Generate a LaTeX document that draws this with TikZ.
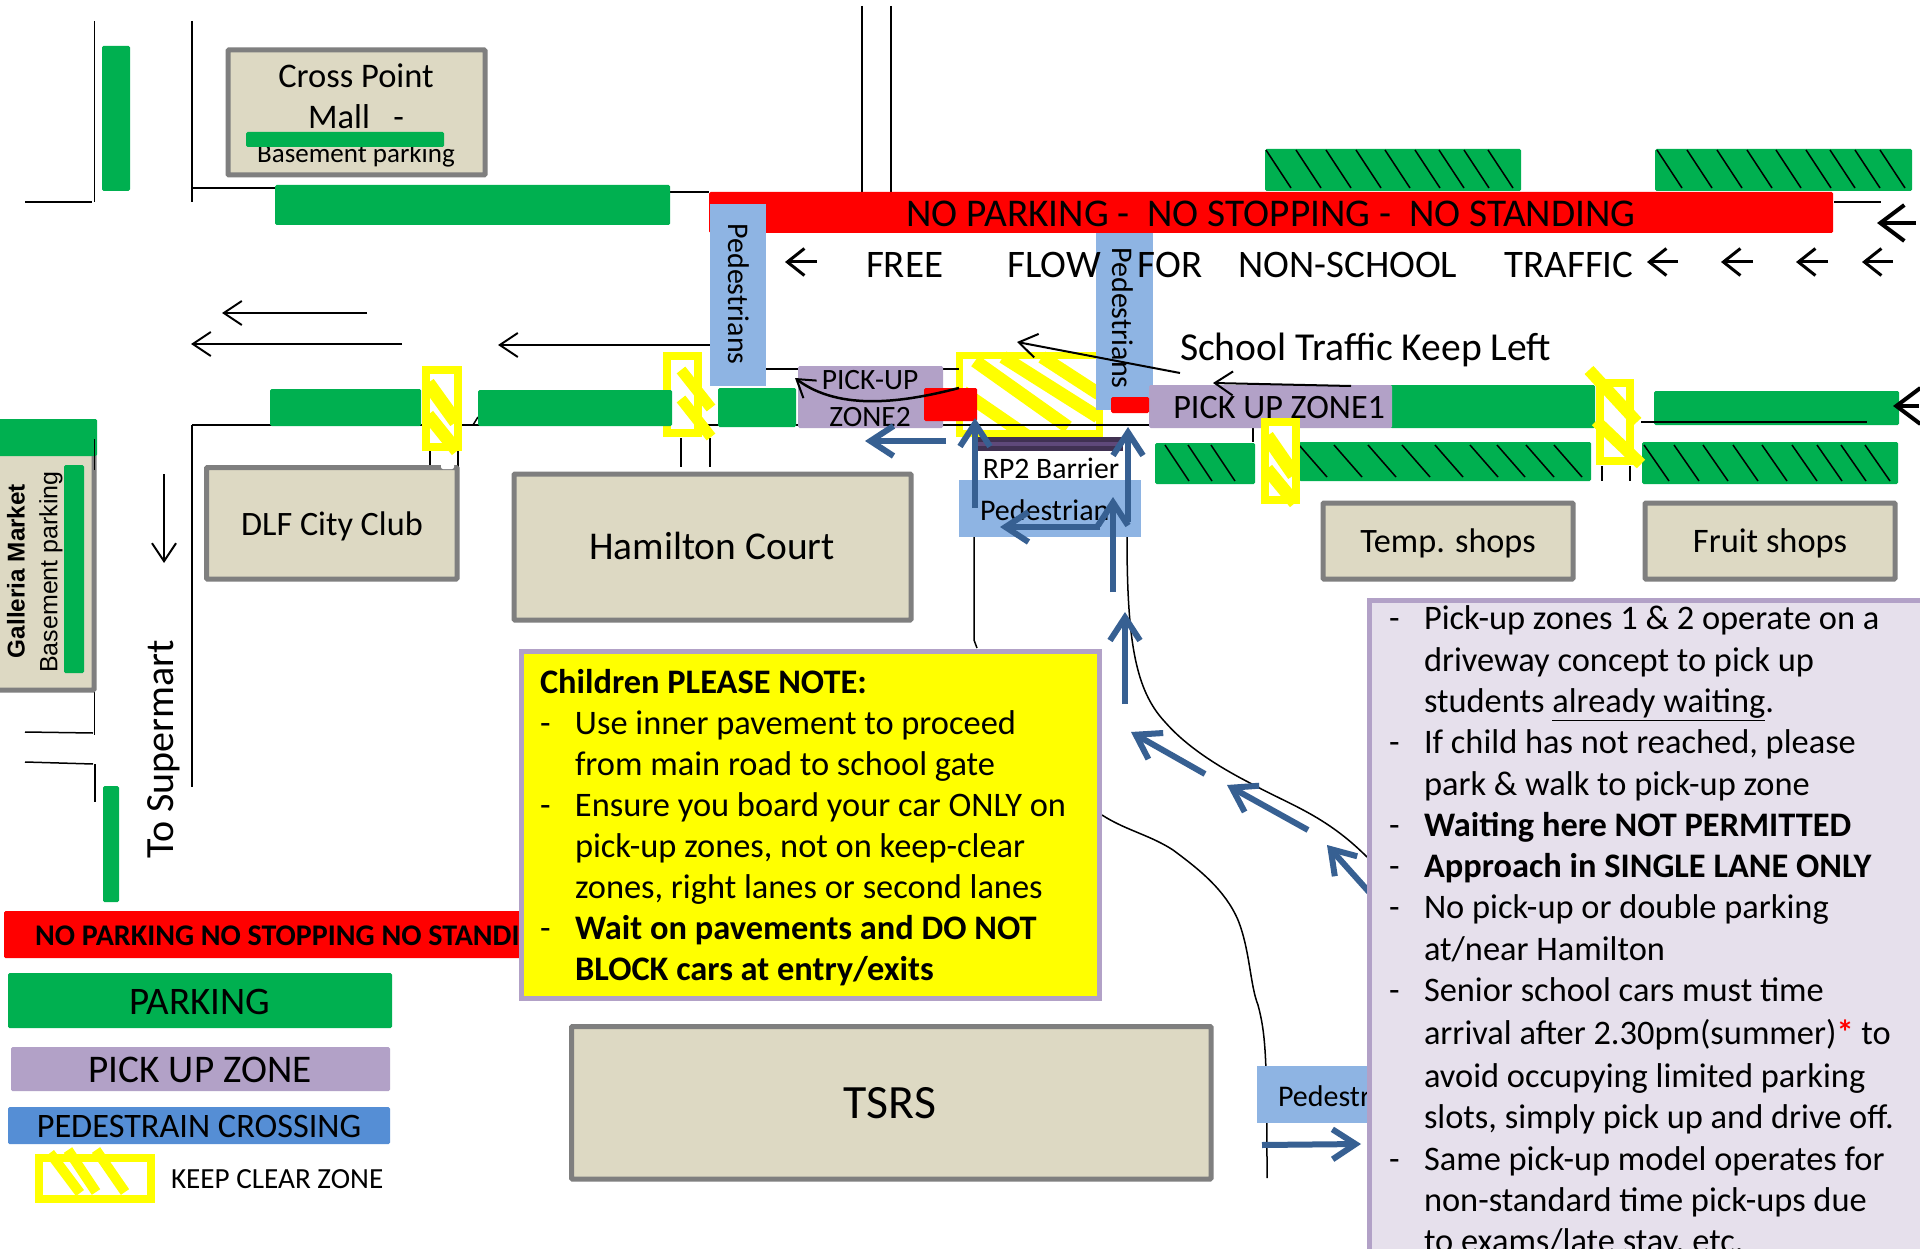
\documentclass[tikz,border=0pt]{standalone}
\usepackage{fontspec}
\setmainfont{Carlito}
\newfontfamily\arialish{Liberation Sans}
\usetikzlibrary{arrows.meta}
\definecolor{parkgreen}{HTML}{00B050}
\definecolor{pickup}{HTML}{B2A1C7}
\definecolor{pedlight}{HTML}{8EB4E3}
\definecolor{pedstrong}{HTML}{558ED5}
\definecolor{beige}{HTML}{DDD9C3}
\definecolor{bgray}{HTML}{7F7F7F}
\definecolor{panelfill}{HTML}{E6E0EC}
\definecolor{arrowblue}{HTML}{376092}
\definecolor{barrierdark}{HTML}{403152}
\definecolor{barrierlight}{HTML}{5F497A}
\definecolor{keepyellow}{RGB}{255,255,0}
\definecolor{purered}{RGB}{255,0,0}
\newcommand{\fsz}[1]{\fontsize{#1}{#1}\selectfont}
\newcommand{\dl}[1]{\makebox[35pt][l]{-}#1}
\newcommand{\il}[1]{\hspace*{35pt}#1}
\tikzset{
  road/.style={black,line width=1.5pt},
  roadheavy/.style={black,line width=2pt},
  bar/.style={rounded corners=1.5pt},
  greenbar/.style={bar,fill=parkgreen},
  zonebar/.style={bar,fill=pickup},
  pedbar/.style={fill=pedlight},
  redbar/.style={bar,fill=purered},
  building/.style={draw=bgray,fill=beige,line width=5pt,rounded corners=1pt},
  keepbox/.style={draw=keepyellow,line width=8pt,fill=white},
  stripe/.style={keepyellow,line width=13pt},
  hatchline/.style={black,line width=1.5pt},
  lab/.style={inner sep=0pt,outer sep=0pt,text=black},
  flowarrow/.style={black,line width=2pt,-{Straight Barb[length=18pt,width=24pt,line width=2pt]}},
  smallflow/.style={black,line width=3pt,-{Straight Barb[length=17pt,width=27pt,line width=3pt]}},
  bigflow/.style={black,line width=4.5pt,-{Straight Barb[length=24pt,width=36pt,line width=4pt]}},
  bluearrow/.style={arrowblue,line width=6pt,-{Straight Barb[length=23pt,width=30pt,line width=6pt]}},
}
\begin{document}
\begin{tikzpicture}[x=1pt,y=-1pt]
\useasboundingbox (0,0) rectangle (1920,1249);
\fill[white] (0,0) rectangle (1920,1249);

% big keep clear (road line shows through it)
\draw[keepbox,line width=7pt] (959.5,355.5) rectangle (1099.5,433.5);
\begin{scope}
\clip (956,352) rectangle (1103,437);
\foreach \a/\b/\c/\d in {963/392/1027/436,975/361/1068/427,1003/357/1098/417,1042/357/1099/394}
  \draw[stripe] (\a,\b) -- (\c,\d);
\end{scope}

% road lines
\draw[road] (94.6,21) -- (94.6,202);
\draw[roadheavy] (25,202) -- (92,202);
\draw[road] (192,21) -- (192,202);
\draw[roadheavy] (192,188) -- (275,188);
\draw[roadheavy] (670,192) -- (709,192);
\draw[road] (862,6) -- (862,192);
\draw[road] (891,6) -- (891,192);
\draw[roadheavy] (1834,202) -- (1881,202);
\draw[road] (192,425) -- (192,787);
\draw[roadheavy] (192,425) -- (1149,425);
\draw[roadheavy] (766,369) -- (959,369);
\draw[road] (473,425) -- (478,417);
\draw[road] (94.6,439) -- (94.6,735);
\draw[road] (25,732) -- (93,733);
\draw[road] (25,762) -- (93,764);
\draw[road] (95,764) -- (95,802);
\draw[road] (430,451) -- (430,474);
\draw[road] (458,451) -- (458,481);
\draw[road] (681,438) -- (681,467);
\draw[road] (710,438) -- (710,467);
\draw[road] (1253,428) -- (1253,442);
\draw[road] (1602,466) -- (1602,481);
\draw[road] (1630,466) -- (1630,481);
\draw[road] (974,537) -- (974,640) -- (977,648);
\draw[road] (1127,537) .. controls (1127,640) and (1135,690) .. (1165,722)
   .. controls (1185,745) and (1215,765) .. (1250,783)
   .. controls (1290,805) and (1325,815) .. (1367,857);
\draw[road] (1102,815) .. controls (1125,830) and (1150,835) .. (1173,850)
   .. controls (1200,870) and (1225,890) .. (1238,920)
   .. controls (1250,950) and (1250,985) .. (1258,1005)
   .. controls (1266,1035) and (1267,1060) .. (1267,1178);

% parking bars
\fill[greenbar] (102,46) rectangle (130,191);
\fill[greenbar] (275,185) rectangle (670,225);
\fill[greenbar] (103,786) rectangle (119,902);
\fill[greenbar] (270,389) rectangle (421,426);
\fill[greenbar] (718,388) rectangle (796,427);
\fill[greenbar] (1390,385) rectangle (1595,428);
\fill[greenbar] (1654,391) rectangle (1899,425);
\draw[roadheavy] (1641,422) -- (1867,422);

% hatched parking
\fill[greenbar] (1265,149) rectangle (1521,191);
\fill[greenbar] (1655,149) rectangle (1912,191);
\fill[greenbar] (1155,443) rectangle (1255,484);
\fill[greenbar] (1299,442) rectangle (1591,481);
\fill[greenbar] (1642,442) rectangle (1898,484);
\foreach \t in {1266,1296,1326,1356,1385,1415,1439,1464,1488,1657,1687,1717,1747,1776,1806,1830,1855,1880}
  \draw[hatchline] (\t,150) -- (\t+25,188);
\foreach \t in {1165,1188,1211}
  \draw[hatchline] (\t,445) -- (\t+24,481);
\foreach \t in {1299,1334,1368,1402,1435,1470,1497,1526,1554}
  \draw[hatchline] (\t,445) -- (\t+28,477);
\foreach \t in {1644,1674,1703,1733,1762,1792,1817,1841,1865}
  \draw[hatchline] (\t,445) -- (\t+25,481);

% buildings
\draw[building] (228,50) rectangle (485,175);
\node[lab,font=\fsz{34.5}] (crosspoint) at (356,76) {Cross Point};
\node[lab,font=\fsz{34.5}] (mall) at (356,117) {Mall\ \ \ -};
\node[lab,font=\fsz{27}] (mallbasement) at (356,155) {Basement parking};
\fill[greenbar] (246,132) rectangle (444,147);
\draw[building] (206.5,467.5) rectangle (457,579);
\node[lab,font=\fsz{34.2}] (dlf) at (332,526) {DLF City Club};
\fill[white,rounded corners=2pt] (441,463) rectangle (454,469);
\draw[building] (514,474) rectangle (911,620);
\node[lab,font=\fsz{39.4}] (hamilton) at (712,546) {Hamilton Court};
\draw[building] (1323,503) rectangle (1573,579);
\node[lab,font=\fsz{34.2}] (temp) at (1448,543) {Temp. shops};
\draw[building] (1645,503) rectangle (1895,579);
\node[lab,font=\fsz{34.4}] (fruit) at (1770,543) {Fruit shops};
\draw[building] (-3,450) rectangle (94,690);
\fill[greenbar] (-2,419) rectangle (97,456);
\fill[greenbar] (64,465) rectangle (84,673);
\draw[road] (94.6,439) -- (94.6,470);
\node[lab,font=\arialish\bfseries\fsz{24.3},rotate=90] (galleria) at (16,571) {Galleria Market};
\node[lab,font=\arialish\fsz{25},rotate=90] (galbase) at (51,572) {Basement parking};
\draw[building] (571.5,1026.5) rectangle (1211,1179);
\node[lab,font=\fsz{47.8}] (tsrs) at (890,1103) {TSRS};

% long traffic arrows
\draw[flowarrow] (367,313) -- (222,313);
\draw[flowarrow] (402,344) -- (191,344);
\draw[flowarrow] (710,345) -- (498,345);
\draw[flowarrow] (164,474) -- (164,563);
\node[lab,font=\fsz{40},rotate=90] (supermart) at (164,749) {To Supermart};

% no parking strip
\fill[redbar] (709,192) rectangle (1833,233);
\node[lab,font=\fsz{39.3}] (noparktop) at (1271,214) {NO PARKING -\ \ NO STOPPING -\ \ NO STANDING};
\foreach \m/\n in {817/785,1678/1647,1753/1721,1828/1796,1893/1862}
  \draw[smallflow] (\m,262) -- (\n,262);
\draw[bigflow] (1916,223) -- (1877,223);
\draw[bigflow] (1919,406) -- (1893,406);

% pedestrian crossings
\fill[pedbar] (710,204) rectangle (766,386);
\node[lab,font=\fsz{30},rotate=-90] (pedleft) at (739,294) {Pedestrians};
\fill[pedbar] (1096,233) rectangle (1153,410);
\node[lab,font=\fsz{30},rotate=-90] (pedmid) at (1123,318) {Pedestrians};
\node[lab,font=\fsz{39},anchor=west] (freeflow) at (866,265) {FREE\hspace{64pt}FLOW\hspace{37pt}FOR\hspace{36pt}NON-SCHOOL\hspace{47pt}TRAFFIC};

% pick up zones
\fill[zonebar] (798,366) rectangle (943,428);
\node[lab,font=\fsz{29.5}] (zonetwoa) at (870,380) {PICK-UP};
\node[lab,font=\fsz{29.5}] (zonetwob) at (870,417) {ZONE2};
\fill[zonebar] (1149,385) rectangle (1392,428);
\node[lab,font=\fsz{34.2},anchor=east] (zoneone) at (1385,408) {PICK UP ZONE1};
\fill[redbar] (924,388) rectangle (977,421);
\fill[redbar] (1111,397) rectangle (1149,413);

% black arrows on the zones
\draw[black,line width=2.5pt,-{Straight Barb[length=17pt,width=22pt,line width=2pt]}] (959,388) .. controls (905,402) and (840,412) .. (795,378);
\draw[flowarrow] (1180,373) -- (1017,342);
\draw[flowarrow] (1351,386) -- (1213,383);
\node[lab,font=\fsz{39.6},anchor=west] (keepleft) at (1180,350) {School Traffic Keep Left};

% barrier
\fill[barrierdark] (977,437) rectangle (1123,451);
\fill[barrierlight] (977,442) rectangle (1123,446);
\node[lab,font=\fsz{29.7}] (rpbarrier) at (1051,468) {RP2 Barrier};
\fill[pedbar] (959,480) rectangle (1141,537);
\node[lab,font=\fsz{30},anchor=west] (pedgate) at (980,510) {Pedestrian};
\fill[pedbar] (1257,1066) rectangle (1372,1123);
\node[lab,font=\fsz{30},anchor=west] (pedeast) at (1278,1096) {Pedestrian};

% small keep clear zones
\draw[keepbox] (426,370) rectangle (458,447);
\draw[stripe,line width=14pt] (428,383) -- (456,422);
\draw[stripe] (428,415) -- (457,451);
\draw[keepbox] (667,356) rectangle (698,433);
\draw[stripe,line width=11pt] (681,370) -- (711,408);
\draw[stripe,line width=11pt] (681,399) -- (711,437);
\fill[greenbar] (478,390) rectangle (672,426);
\draw[keepbox] (1265,422) rectangle (1296,500);
\draw[stripe,line width=14pt] (1267,436) -- (1294,475);
\draw[stripe] (1267,469) -- (1295,503);
\draw[keepbox] (1600,383) rectangle (1630,461);
\draw[stripe,line width=12pt] (1589,370) -- (1637,422);
\draw[stripe,line width=12pt] (1596,421) -- (1641,464);

% blue traffic arrows
\draw[bluearrow] (946,441) -- (865,441);
\draw[bluearrow] (975,508) -- (975,418);
\draw[bluearrow] (1128,522) -- (1128,427);
\draw[bluearrow] (1100,527) -- (1000,527);
\draw[bluearrow] (1113,592) -- (1113,497);
\draw[bluearrow] (1125,704) -- (1125,612);
\draw[bluearrow] (1205,774) -- (1131,732);
\draw[bluearrow] (1308,830) -- (1227,785);
\draw[bluearrow] (1369,892) -- (1327,845);
\draw[bluearrow] (1262,1145) -- (1361,1144);

% legend
\fill[redbar] (4,911) rectangle (530,958);
\node[lab,font=\bfseries\fsz{30},anchor=west] (nopark) at (35,936) {NO PARKING NO STOPPING NO STANDING};
\fill[greenbar] (8,973) rectangle (392,1028);
\node[lab,font=\fsz{39}] (legpark) at (200,1002) {PARKING};
\fill[zonebar] (11,1047) rectangle (390,1091);
\node[lab,font=\fsz{39.2}] (legzone) at (200,1070) {PICK UP ZONE};
\fill[bar,fill=pedstrong] (8,1107) rectangle (390,1144);
\node[lab,font=\fsz{34.3}] (legped) at (199,1126) {PEDESTRAIN CROSSING};
\draw[keepbox] (39,1158) rectangle (151,1199);
\draw[stripe,line width=10pt] (50,1153) -- (80,1193);
\draw[stripe,line width=10pt] (68,1150) -- (96,1192);
\draw[stripe,line width=10pt] (96,1150) -- (125,1192);
\node[lab,font=\fsz{29.2},anchor=west] (legkeep) at (171,1179) {KEEP CLEAR ZONE};

% yellow note
\draw[draw=pickup,fill=keepyellow,line width=5pt] (521.5,651.5) rectangle (1099.5,998);
\node[lab,font=\fontsize{34.4}{41.1}\selectfont,align=left,anchor=north west] (note) at (540,669) {%
\textbf{Children PLEASE NOTE:}\\
\dl{Use inner pavement to proceed}\\
\il{from main road to school gate}\\
\dl{Ensure you board your car ONLY on}\\
\il{pick-up zones, not on keep-clear}\\
\il{zones, right lanes or second lanes}\\
\dl{\textbf{Wait on pavements and DO NOT}}\\
\il{\textbf{BLOCK cars at entry/exits}}};

% info panel
\draw[draw=pickup,fill=panelfill,line width=5pt] (1369.5,600.5) rectangle (1925,1260);
\node[lab,font=\fontsize{34.4}{41.3}\selectfont,align=left,anchor=north west] (panel) at (1389,606) {%
\dl{Pick-up zones 1 \& 2 operate on a}\\
\il{driveway concept to pick up}\\
\il{students \underline{already waiting}.}\\
\dl{If child has not reached, please}\\
\il{park \& walk to pick-up zone}\\
\dl{\textbf{Waiting here NOT PERMITTED}}\\
\dl{\textbf{Approach in SINGLE LANE ONLY}}\\
\dl{No pick-up or double parking}\\
\il{at/near Hamilton}\\
\dl{Senior school cars must time}\\[2pt]
\il{arrival after 2.30pm(summer){\color{purered}\bfseries*} to}\\[1.5pt]
\il{avoid occupying limited parking}\\
\il{slots, simply pick up and drive off.}\\
\dl{Same pick-up model operates for}\\
\il{non-standard time pick-ups due}\\
\il{to exams/late stay, etc.}};
\end{tikzpicture}
\end{document}
